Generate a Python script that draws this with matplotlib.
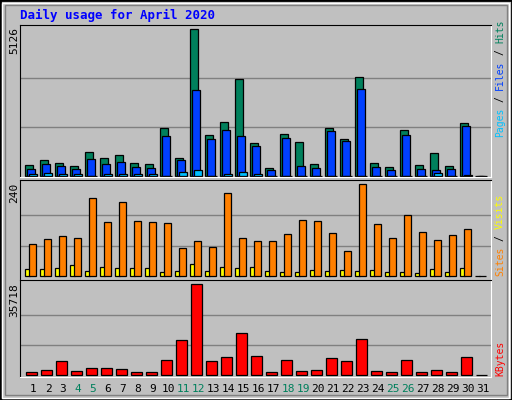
import matplotlib
matplotlib.use("Agg")
import matplotlib.pyplot as plt
from matplotlib.patches import Rectangle
import numpy as np

days = list(range(1, 32))
hits = [384,559,443,350,827,617,734,443,419,1678,617,5126,1433,1876,3390,1142,268,1456,1177,408,1678,1282,3460,443,303,1596,384,792,338,1841,0]
files = [233,419,338,233,583,419,478,315,280,1398,548,3006,1293,1608,1398,1049,198,1328,350,280,1573,1223,3041,315,198,1433,245,198,245,1748,0]
pages = [70,90,60,60,15,80,60,60,60,15,140,210,15,60,130,80,15,15,15,15,15,15,15,15,15,15,15,100,15,50,0]
visits = [18,18,21,29,13,23,21,21,21,10,13,31,13,23,21,23,13,10,10,16,13,16,13,16,10,10,8,18,10,21,0]
sites = [83,97,104,99,203,141,193,143,141,138,73,91,76,217,99,91,91,110,146,143,112,65,240,136,99,159,115,94,107,123,0]
kbytes = [1178,1963,5495,1570,2747,2747,2355,1178,1178,5888,13737,35718,5495,7065,16485,7457,1178,5888,1570,1963,6672,5495,14130,1570,1178,5888,1178,1963,1178,7065,0]
weekend = [4,5,11,12,18,19,25,26]

W, H = 512, 400
BG = "#C0C0C0"
fig = plt.figure(figsize=(W/100, H/100), dpi=100, facecolor=BG)

fig.patches.append(Rectangle((0, 0), 1, 1, transform=fig.transFigure, fill=False, ec="black", lw=2))
fig.patches.append(Rectangle((2/W, 2/H), 1-5/W, 1-5/H, transform=fig.transFigure, fill=False, ec="white", lw=1))
fig.patches.append(Rectangle((5/W, 5/H), 1-10/W, 1-10/H, transform=fig.transFigure, fill=False, ec="#808080", lw=1))

def px2x(px):
    return (px - 25) / 15.0

x0, x1 = px2x(20), px2x(491)
idx = np.arange(31)
mono = "DejaVu Sans Mono"

def make_panel(top, bottom, base, maxpx, vmax):
    ax = fig.add_axes([20/W, (H-bottom)/H, 471/W, (bottom-top)/H])
    ax.set_facecolor(BG)
    per = vmax / (base - maxpx)
    ax.set_ylim(-(bottom - base) * per, vmax + (maxpx - top) * per)
    ax.set_xlim(x0, x1)
    ax.set_xticks([]); ax.set_yticks([])
    for s in ("top", "left"):
        ax.spines[s].set_color("black")
    for s in ("right", "bottom"):
        ax.spines[s].set_color("white")
    for f in (1/3, 2/3):
        ax.axhline(vmax * f, color="#808080", lw=1, zorder=0)
    return ax

kw = dict(align="edge", edgecolor="black", linewidth=0.9, zorder=2)

ax1 = make_panel(25, 177, 176, 29, 5126)
ax1.bar(idx + 0.0, hits, 0.53, color="#00805C", **kw)
ax1.bar(idx + 0.13, files, 0.53, color="#0040FF", **kw)
ax1.bar(idx + 0.27, pages, 0.53, color="#00C0FF", **kw)

ax2 = make_panel(180, 280, 276.3, 184.3, 240)
ax2.bar(idx + 0.0, visits, 0.3, color="#FFFF00", **kw)
ax2.bar(idx + 0.27, sites, 0.47, color="#FF8000", **kw)

ax3 = make_panel(280, 377, 375.3, 284.3, 35718)
ax3.bar(idx + 0.07, kbytes, 0.7, color="#FF0000", **kw)

fig.text(20/W, 1-15/H, "Daily usage for April 2020", color="#0000FF", fontsize=9,
         fontweight="bold", family=mono, va="center", ha="left")

for val, ytop in (("5126", 27), ("240", 183), ("35718", 283)):
    fig.text(14/W, 1-ytop/H, val, rotation=90, fontsize=8, family=mono, ha="center", va="top")

for d in days:
    fig.text((25 + 15*(d-1) + 8)/W, 1-389/H, str(d), fontsize=8, family=mono, ha="center",
             va="center", color="#00805C" if d in weekend else "black")

FS = 7
CW = 0.602 * FS * 100 / 72  # advance per char in px

def vlabel(parts, ybottom):
    y = ybottom
    for txt, col in parts:
        fig.text(500/W, 1-y/H, txt, rotation=90, fontsize=FS, family=mono, color=col,
                 ha="center", va="bottom")
        y -= (len(txt) + 1) * CW

vlabel([("Pages", "#00C0FF"), ("/", "black"), ("Files", "#0040FF"), ("/", "black"), ("Hits", "#00805C")], 137)
vlabel([("Sites", "#FF8000"), ("/", "black"), ("Visits", "#FFFF00")], 276)
vlabel([("KBytes", "#FF0000")], 376)

fig.savefig("out.png", dpi=100, facecolor=BG)
